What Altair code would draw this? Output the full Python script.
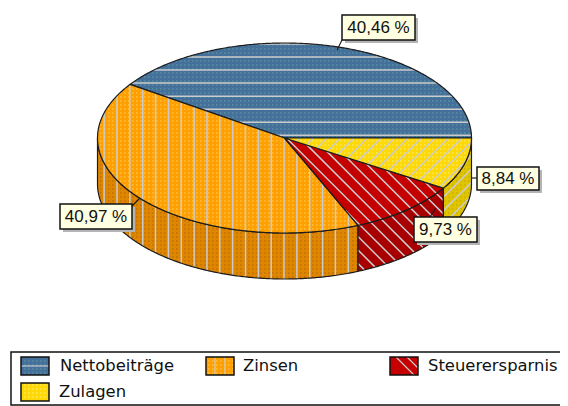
import math
import altair as alt

categories = ["Nettobeiträge", "Zinsen", "Steuerersparnis", "Zulagen"]
shares = [40.46, 40.97, 9.73, 8.84]
share_labels = ["40,46 %", "40,97 %", "9,73 %", "8,84 %"]
face_colors = ["#45709C", "#FFA000", "#C40000", "#FFD808"]
side_colors = ["#3A5D85", "#DE8600", "#A80000", "#E0C400"]
face_dots = ["#5890A0", "#FFC040", "#C40000", "#FFEA50"]
side_dots = ["#3A5D85", "#C07000", "#A80000", "#C8B000"]
stripe_dirs = ["h", "v", "d", "u"]
stripe_color = "#CCCCCC"
edge = "#1c1c1c"

CX, CY, RX, RY, DEPTH = 284.5, 138, 187, 95, 46
OFF = 8
W, H = 560, 404
F = W / 552  # the page shrinks the drawing to its body width; this undoes it
OFF_Y = OFF + H * (1 - 1 / F) / 2  # and centres it vertically in the svg


def P(x, y):
    return [(x - OFF) * F, (y - OFF_Y) * F]


def pt(a, dy=0):
    r = math.radians(a)
    return (CX + RX * math.cos(r), CY - RY * math.sin(r) + dy)


def arc(a0, a1, dy=0):
    n = max(2, int(abs(a1 - a0) * 2))
    return [pt(a0 + (a1 - a0) * i / n, dy) for i in range(n + 1)]


def clip_ts(poly, p0, d):
    ts = []
    for i in range(len(poly)):
        a, b = poly[i], poly[(i + 1) % len(poly)]
        ex, ey = b[0] - a[0], b[1] - a[1]
        den = d[0] * ey - d[1] * ex
        if abs(den) < 1e-12:
            continue
        t = ((a[0] - p0[0]) * ey - (a[1] - p0[1]) * ex) / den
        u = ((a[0] - p0[0]) * d[1] - (a[1] - p0[1]) * d[0]) / den
        if 0 <= u < 1:
            ts.append(t)
    ts.sort()
    return [(ts[i], ts[i + 1]) for i in range(0, len(ts) - 1, 2)]


def seg_clip(poly, p0, d):
    return [
        [P(p0[0] + d[0] * t0, p0[1] + d[1] * t0), P(p0[0] + d[0] * t1, p0[1] + d[1] * t1)]
        for t0, t1 in clip_ts(poly, p0, d)
    ]


def stripes(poly, kind):
    out = []
    for k in range(-60, 60):
        if kind == "h":
            out += seg_clip(poly, (0, 57 + 13.05 * k), (1, 0))
        elif kind == "v":
            out += seg_clip(poly, (117 + 12.85 * k, 0), (0, 1))
        elif kind == "d":
            out += seg_clip(poly, (300 + 13.5 * k, 138), (1, 1))
        elif kind == "u":
            out += seg_clip(poly, (300 + 13.5 * k, 138), (1, -1))
    return out


def dots(poly, step=4.0):
    out = []
    ys = [p[1] for p in poly]
    y = math.floor(min(ys) / step) * step + 1
    while y <= max(ys):
        for t0, t1 in clip_ts(poly, (0, y), (1, 0)):
            x = math.ceil(t0 / step) * step
            while x + 1.5 <= t1:
                out.append([P(x, y), P(x + 1.5, y)])
                x += step
        y += step
    return out


def polygon(points):
    ring = [P(*p) for p in points]
    ring.append(ring[0])
    return {"type": "Polygon", "coordinates": [ring]}


def rect(x0, y0, x1, y1):
    return [(x0, y0), (x1, y0), (x1, y1), (x0, y1)]


def geo(geom, **mark):
    feature = {"type": "Feature", "properties": {}, "geometry": geom}
    return alt.Chart(alt.Data(values=[feature])).mark_geoshape(**mark).project(
        type="identity", scale=1, translate=[0, 0]
    )


def lines(segs, **mark):
    return geo({"type": "MultiLineString", "coordinates": segs}, filled=False, **mark)


def text(s, x, y, size, font, align="left"):
    px, py = P(x, y)
    return alt.Chart(alt.Data(values=[{"t": s}])).mark_text(
        font=font, fontSize=size * F, align=align, baseline="middle", color="#111111"
    ).encode(text="t:N", x=alt.value(px), y=alt.value(py))


layers = []

angles = [0]
for v in shares:
    angles.append(angles[-1] + v * 3.6)

# side walls, only the front half of the disc shows one
for i in range(4):
    a0, a1 = max(angles[i], 180), angles[i + 1]
    if a1 <= a0:
        continue
    poly = arc(a0, a1) + arc(a1, a0, DEPTH)
    layers.append(geo(polygon(poly), fill=side_colors[i], stroke=None))
    if side_dots[i] != side_colors[i]:
        layers.append(lines(dots(poly), stroke=side_dots[i], strokeWidth=1.4))
    layers.append(lines(stripes(poly, stripe_dirs[i]), stroke=stripe_color, strokeWidth=1.5))
    layers.append(geo(polygon(poly), filled=False, stroke=edge, strokeWidth=1.2))

# top faces
for i in range(4):
    poly = [(CX, CY)] + arc(angles[i], angles[i + 1])
    layers.append(geo(polygon(poly), fill=face_colors[i], stroke=None))
    if face_dots[i] != face_colors[i]:
        layers.append(lines(dots(poly), stroke=face_dots[i], strokeWidth=1.4))
    layers.append(lines(stripes(poly, stripe_dirs[i]), stroke=stripe_color, strokeWidth=1.5))
    layers.append(geo(polygon(poly), filled=False, stroke=edge, strokeWidth=1.2))

# value labels
label_boxes = [
    (342, 15, 415, 40, (342, 40), (337, 50)),
    (60, 204, 132, 229, (132, 206), (140, 198)),
    (414, 217, 477, 242, (430, 217), (436, 208)),
    (477, 167, 539, 190, (477, 178), (471, 178)),
]
label_font = "Liberation Sans"
for s, (x0, y0, x1, y1, a, b) in zip(share_labels, label_boxes):
    layers.append(lines([[P(*a), P(*b)]], stroke=edge, strokeWidth=1.2))
    layers.append(geo(polygon(rect(x0 + 3, y0 + 3, x1 + 3, y1 + 3)), fill="#B4B4B4", stroke=None))
    layers.append(geo(polygon(rect(x0, y0, x1, y1)), fill="#FFFFE1", stroke="#111111", strokeWidth=1.5))
    layers.append(text(s, (x0 + x1) / 2, (y0 + y1) / 2 + 0.5, 17, label_font, "center"))

# legend
layers.append(geo(polygon(rect(11, 352, 600, 405)), fill="#FFFFFF", stroke="#111111", strokeWidth=1.5))
legend_slots = [(21, 357, 60), (206, 357, 243), (390, 357, 428), (21, 383, 59)]
legend_font = "DejaVu Sans"
for i, (x, y, tx) in enumerate(legend_slots):
    box = rect(x, y, x + 28, y + 18)
    layers.append(geo(polygon(box), fill=face_colors[i], stroke=None))
    if face_dots[i] != face_colors[i]:
        layers.append(lines(dots(box), stroke=face_dots[i], strokeWidth=1.4))
    if i < 3:
        segs = {
            "h": seg_clip(box, (0, y + 9), (1, 0)),
            "v": seg_clip(box, (x + 9, 0), (0, 1)) + seg_clip(box, (x + 19, 0), (0, 1)),
            "d": seg_clip(box, (x + 6, y), (1, 1)) + seg_clip(box, (x + 17, y), (1, 1)),
        }[stripe_dirs[i]]
        layers.append(lines(segs, stroke=stripe_color, strokeWidth=1.2))
    layers.append(geo(polygon(box), filled=False, stroke="#111111", strokeWidth=1.5))
    layers.append(text(categories[i], tx, y + 9, 16.4, legend_font))

chart = alt.layer(*layers).properties(
    width=W,
    height=H,
    padding=0,
    autosize=alt.AutoSizeParams(type="none"),
).configure_view(stroke=None)

chart.save("out.html", embed_options={"renderer": "svg", "actions": False})
